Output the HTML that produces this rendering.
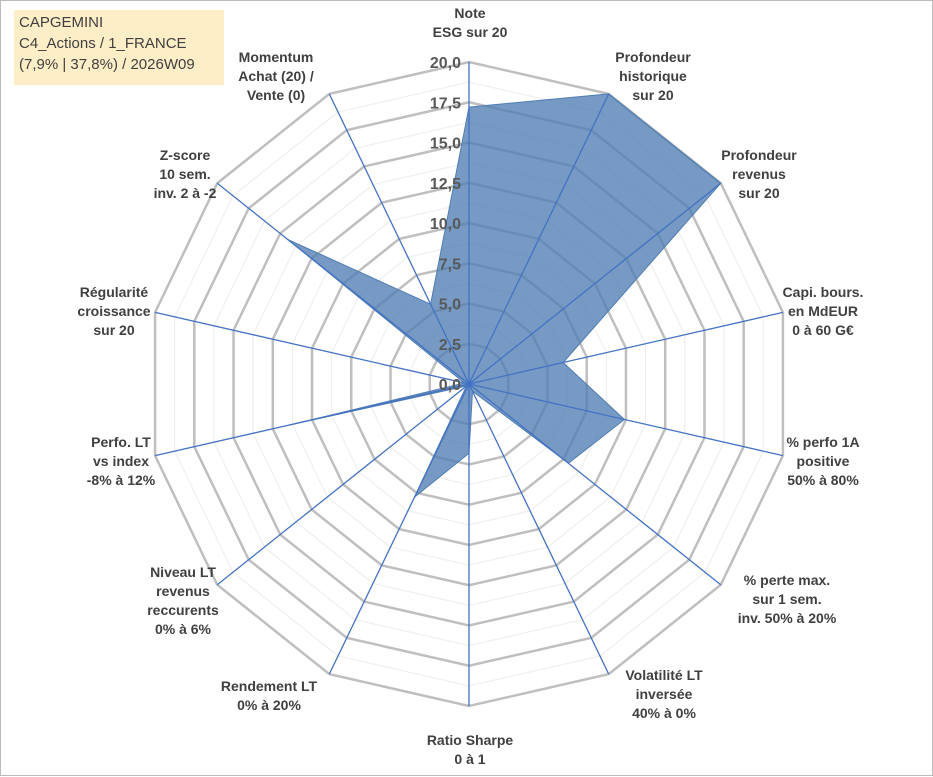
<!DOCTYPE html>
<html><head><meta charset="utf-8"><style>
body{margin:0;background:#fff;}
#wrap{position:relative;width:933px;height:776px;border:1px solid #bbb;box-sizing:border-box;font-family:"Liberation Sans",sans-serif;}
.lbl{position:absolute;font-weight:bold;font-size:14px;color:#404040;text-align:center;line-height:19px;white-space:nowrap;transform:translateX(-50%);}
#title{position:absolute;left:13px;top:9px;width:210px;height:75px;background:#fdeec8;color:#404040;font-size:15px;line-height:21px;padding:2px 5px;box-sizing:border-box;}
</style></head><body>
<div id="wrap">
<svg id="chart" width="933" height="776" style="position:absolute;left:0;top:0"></svg>
<div id="title">CAPGEMINI<br>C4_Actions / 1_FRANCE<br>(7,9% | 37,8%) / 2026W09</div>
</div>
<script>
const categories=["Note\nESG sur 20","Profondeur\nhistorique\nsur 20","Profondeur\nrevenus\nsur 20","Capi. bours.\nen MdEUR\n0 à 60 G€","% perfo 1A\npositive\n50% à 80%","% perte max.\nsur 1 sem.\ninv. 50% à 20%","Volatilité LT\ninversée\n40% à 0%","Ratio Sharpe\n0 à 1","Rendement LT\n0% à 20%","Niveau LT\nrevenus\nreccurents\n0% à 6%","Perfo. LT\nvs index\n-8% à 12%","Régularité\ncroissance\nsur 20","Z-score\n10 sem.\ninv. 2 à -2","Momentum\nAchat (20) /\nVente (0)"];
const values=[17.2,20,20,6.0,9.9,7.9,0.5,4.3,7.8,0.2,11.5,0.3,14.4,5.5];
const tickLabels=["0,0","2,5","5,0","7,5","10,0","12,5","15,0","17,5","20,0"];
const labelPos=[[469,3],[652,47],[758,145],[822,282],[822,432],[786,570],[663,665],[469,730],[268,676],[182,562],[120,432],[113,282],[184,145],[275,47]];
const NS="http://www.w3.org/2000/svg";
const svg=document.getElementById('chart');
const cx=468,cy=383,R=322,maxV=20,n=categories.length;
function ang(i){return i*2*Math.PI/n;}
function pt(i,v){const r=v/maxV*R;return [cx+r*Math.sin(ang(i)),cy-r*Math.cos(ang(i))];}
function mk(t,a){const e=document.createElementNS(NS,t);for(const k in a)e.setAttribute(k,a[k]);svg.appendChild(e);return e;}
for(let k=1;k<=16;k++){const v=k*1.25;const p=categories.map((c,i)=>pt(i,v).join(',')).join(' ');
 const e=mk('polygon',{points:p,fill:'none',stroke:k%2?'#ececec':'#bfbfbf','stroke-width':k%2?1:2.5});
 
 }
const poly=mk('polygon',{points:values.map((v,i)=>pt(i,v).join(',')).join(' '),fill:'#4f7db3','fill-opacity':0.78,stroke:'#4f7db3','stroke-width':1});


categories.forEach((c,i)=>{const [x,y]=pt(i,maxV);const l=mk('line',{x1:cx,y1:cy,x2:x,y2:y,stroke:'#4472c4','stroke-width':1.3});
 
 });
tickLabels.forEach((t,k)=>{const e=mk('text',{x:cx-8,y:cy-k*2.5/maxV*R+6,'text-anchor':'end','font-family':'Liberation Sans, sans-serif','font-size':16,'font-weight':'bold',fill:'#595959'});e.textContent=t;
 
 });
const wrap=document.getElementById('wrap');
categories.forEach((c,i)=>{const d=document.createElement('div');d.className='lbl';d.style.left=labelPos[i][0]+'px';d.style.top=labelPos[i][1]+'px';d.innerHTML=c.replace(/\n/g,'<br>');
 
 
 wrap.appendChild(d);});
</script>
</body></html>
